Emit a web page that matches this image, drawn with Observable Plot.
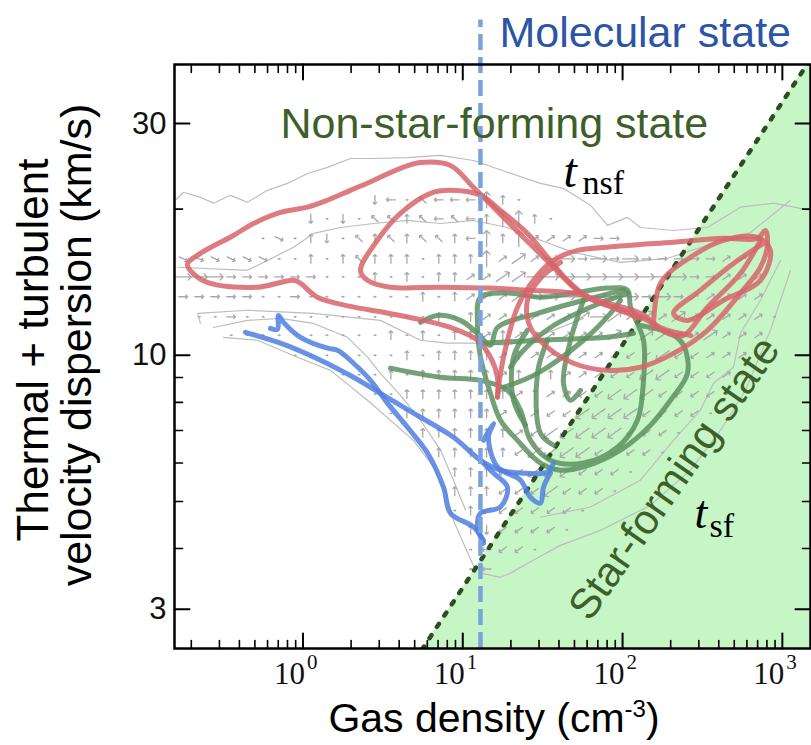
<!DOCTYPE html>
<html><head><meta charset="utf-8">
<script src="https://cdn.jsdelivr.net/npm/d3@7"></script>
<script src="https://cdn.jsdelivr.net/npm/@observablehq/plot@0.6"></script>
<style>body{margin:0;background:#fff}#chart{width:811px;height:745px}</style>
</head><body><div id="chart"></div>
<script>
// ---------- axis ticks ----------
const xMajor = [1, 10, 100, 1000];
const xMinor = [0.2,0.3,0.4,0.5,0.6,0.7,0.8,0.9,2,3,4,5,6,7,8,9,20,30,40,50,60,70,80,90,200,300,400,500,600,700,800,900];
const yMajor = [3, 10, 30];
const yMinor = [4, 5, 6, 7, 8, 9, 20];

// ---------- thresholds ----------
const molecularN = 12.9;                 // cm^-3, molecular-state threshold
const sfBoundaryN = [5, 2000];           // star-forming boundary (density)
const sfBoundarySigma = [2.35, 47.0];    // star-forming boundary (dispersion)

// ---------- tracks: [density, dispersion] ----------
const redPaths = [
  [[16.48,8.20],[16.48,9.01],[14.90,9.91],[12.36,10.74],[8.37,11.41],[5.68,11.80],[3.19,12.26],[1.98,12.61],[1.23,13.17],[0.965,14.07],[0.873,14.27],[0.519,13.81],[0.275,14.01],[0.219,14.48],[0.189,15.39],[0.228,16.21],[0.367,17.65],[0.490,18.68],[0.723,19.69],[1.067,20.18],[1.424,20.86],[1.98,21.86],[2.76,22.91],[4.07,24.27],[5.44,24.94],[8.37,24.60],[11.67,22.17],[15.56,20.18],[20.77,18.33],[27.70,16.69],[36.95,15.18],[49.29,13.81],[65.75,12.98],[101.3,12.38],[143.2,11.80],[191.0,11.10],[240.6,10.99],[339.8,12.56],[547,14.75],[729,17.25]],
  [[129.4,11.91],[80.43,12.67],[60.29,13.17],[45.19,14.27],[33.88,15.92],[25.39,17.82],[17.21,19.88],[12.91,21.35],[8.37,21.86],[6.28,21.55],[4.07,19.60],[2.92,17.25],[2.29,14.96],[2.53,14.27],[3.53,13.81],[7.25,13.81],[14.90,13.75],[25.39,13.62],[49.29,13.43],[80.43,12.80],[129.4,12.20],[172.7,11.41],[266.1,10.99]],
  [[16.48,8.20],[17.21,9.18],[19.04,10.74],[21.99,12.56],[27.70,14.27],[36.95,15.68],[52.20,16.44],[80.43,16.69],[208.3,17.10],[428.1,17.41],[698.2,17.41],[783.7,18.07],[807,16.85],[729,15.18],[547,13.43],[339.8,11.26],[208.3,10.09],[129.4,9.45],[80.43,9.31],[49.29,9.63],[33.88,10.38],[26.52,11.41],[25.39,12.98],[30.63,14.41],[40.86,15.53]],
  [[156.1,11.41],[172.7,14.07],[266.1,15.92],[428.1,17.25],[698.2,17.49],[842,16.44],[729,14.27],[428.1,12.98],[254.8,11.80],[208.3,12.20],[307.2,13.62],[494.5,15.46],[761.4,17.00]]
];
const greenPaths = [
  [[3.53,9.41],[7.25,9.01],[12.91,8.88],[19.04,8.47],[22.96,7.71],[26.52,6.68],[35.38,6.08],[56.93,6.00],[92.90,6.47],[123.9,7.35],[135.2,8.88],[135.2,10.74],[112.1,12.56],[107.3,13.62],[80.43,13.75],[49.29,13.43],[30.63,13.17],[19.04,13.43],[12.91,13.17],[12.36,11.63],[12.91,9.91],[14.90,8.35],[17.21,7.35],[21.99,6.68],[30.63,6.00],[40.86,5.80],[56.93,5.89],[97.01,6.38],[149.5,7.18],[199.5,8.08],[254.8,9.18],[240.6,10.49],[199.5,11.10],[129.4,11.52]],
  [[5.44,11.69],[6.95,12.08],[9.67,11.80],[12.36,11.10],[14.90,10.49],[16.48,11.41],[29.33,12.20],[56.93,12.98],[101.3,13.62]],
  [[17.98,8.59],[29.33,9.18],[56.93,10.74],[84.00,12.20],[97.01,12.98]],
  [[33.88,10.74],[29.33,9.18],[30.63,6.91],[36.95,6.53]],
  [[56.93,12.98],[47.20,10.74],[42.67,8.76],[47.20,8.08],[54.51,8.47]],
  [[19.89,9.45],[23.98,10.24],[35.38,11.41],[62.96,12.56],[107.3,13.43]],
  [[12.91,10.59],[30.63,10.74],[80.43,10.89],[117.0,11.10]],
  [[25.39,11.26],[20.77,9.91],[20.77,8.08],[24.68,7.18]]
];
const bluePaths = [
  [[0.436,11.15],[0.723,10.59],[1.288,9.77],[2.071,9.01],[3.053,8.35],[4.915,7.60],[8.745,6.78],[12.91,6.08],[17.21,5.80],[22.96,5.72],[33.88,5.75],[36.95,6.00]],
  [[0.626,11.36],[0.692,11.31],[0.703,12.08],[0.755,11.69],[0.965,10.89],[1.424,10.34],[1.644,10.24],[2.071,9.63],[2.645,8.88],[3.378,7.97],[4.506,7.11],[6.012,6.29],[7.572,5.35],[8.374,4.73],[11.67,4.43],[13.48,4.16]],
  [[12.91,6.08],[15.56,5.72],[19.04,5.35],[17.21,4.87],[12.91,4.73],[12.36,4.43],[13.48,4.10]],
  [[13.48,6.68],[15.56,7.24],[14.48,6.78],[16.48,5.89],[22.96,5.53],[26.52,5.10],[30.63,4.96],[31.99,5.35],[35.38,5.72]]
];
const contourPaths = [
  [[0.159,20.86],[0.179,21.66],[0.228,21.15],[0.275,20.57],[0.352,21.35],[0.449,20.66],[0.600,21.86],[0.800,22.59],[1.067,23.68],[1.424,24.38],[1.983,25.42],[2.762,25.42],[4.506,25.54],[7.251,25.80],[11.67,25.18],[19.04,23.82],[30.63,22.59],[42.67,22.06],[62.96,20.37],[80.43,18.51],[107.3,19.23],[129.4,18.33],[208.3,18.07],[339.8,18.33],[547.0,20.18],[879.8,20.57],[1500,19.88]],
  [[0.164,15.18],[0.449,14.96],[0.600,15.68],[0.873,16.69],[1.164,17.82],[1.717,18.33],[2.762,18.68],[4.506,18.95],[7.251,18.68],[11.67,18.95],[19.04,18.33],[30.63,17.25],[49.29,16.29],[97.01,15.53],[191.0,15.84],[339.8,16.85],[631.3,17.90],[1124,20.86]],
  [[0.228,11.63],[0.219,12.20],[0.449,12.38],[1.164,12.20],[3.053,11.80],[5.438,10.74],[8.018,10.59],[11.67,10.59],[19.04,10.49],[30.63,10.99],[56.93,11.91]],
  [[0.275,11.41],[0.449,11.80],[0.723,11.91],[1.164,11.63],[1.897,10.89],[2.533,9.91],[3.053,9.18],[4.075,8.27],[5.438,7.35],[7.251,6.38],[8.745,5.53],[10.40,4.80]],
  [[0.318,10.89],[0.519,10.74],[0.924,9.91],[1.486,9.31],[2.533,8.08],[4.915,6.68],[6.560,5.89],[8.018,5.10],[8.745,4.57],[10.1,4.10],[12.0,3.61]],
  [[30.63,4.64],[62.96,4.87],[129.4,5.53],[208.3,6.68],[307.2,7.71],[370.6,8.76],[494.5,9.45],[547.0,11.10],[729,12.98],[973,15.68]],
  [[12.91,3.56],[17.21,3.49],[19.89,3.56],[27.70,3.79],[40.86,4.06],[72.72,4.36],[149.5,4.91],[266.1,5.80],[409.9,7.01],[587.6,8.47],[842,11.26],[1124,14.96]]
];

// ---------- flow field (quiver) ----------
const arrowColsN = [0.178,0.224,0.282,0.355,0.447,0.562,0.708,0.891,1.12,1.41,1.78,2.24,2.82,3.55,4.47,5.62,7.08,8.91,11.2,14.1,17.8,22.4,28.2,35.5,44.7,56.2,70.8,89.1,112,141,178,224,282,355,447,562,708,891,1122];
const arrowRowsSigma = [20.9,19.1,17.4,15.8,14.5,13.2,12.0,11.0,10.0,9.12,8.32,7.59,6.92,6.31,5.75,5.25,4.79,4.37,3.98,3.63];
// [first column, directions]: r l u d e(NE) w(NW) s(SW) x(SE); upper case = strong, "." = weak
const arrowRows = [
  [12, "dl.wlllUu."],
  [8, "d.d.wwuwlwluUUu."],
  [5, ".x.ud.wuwuwwulUuUeeeerr"],
  [0, "xxxxxx..u.uwuuu.uuuUeEeRRrRrRrrrrree"],
  [0, "RRRrrrrrr...u.u.uueeEERRRRRRRRRRrreee"],
  [0, "rrrrr..r.......u.ueeeERRRRRRRrRreeeee"],
  [1, "..r............u.ueeeeeeEREeEeEeeeee."],
  [3, ".... .....u.u.uueueeeeeeEeEEeeEeee"],
  [7, ".......u.uuuueueeeeeessSsseee."],
  [10, "...u.uuuuueueueeessSSssse."],
  [12, "..uuuuuuueueessSSSssss."],
  [13, ".uuuuuueuessSSSSssss."],
  [15, "uuuuuuesSSSSSsss."],
  [16, "uuuuusSSSSssss."],
  [17, "uuussSSSsss."],
  [17, "uuusssSsss."],
  [17, ".ussssss."],
  [18, "udssss."],
  [18, ".lss."],
  [18, ".l"]
];

// ---------- build tables ----------
const toRows = (paths, tag) => paths.flatMap((p, k) => p.map(([n, s]) => ({n, s, id: tag + k})));
const sfRows = sfBoundaryN.map((n, i) => ({n, s: sfBoundarySigma[i]}));
const dirAngle = {r: 90, l: -90, u: 0, d: 180, e: 55, w: -45, s: 235, x: 115};
const arrows = [];
arrowRows.forEach(([start, str], j) => {
  [...str].forEach((c, k) => {
    if (c === " ") return;
    const lc = c.toLowerCase();
    arrows.push({
      n: arrowColsN[start + k], s: arrowRowsSigma[j],
      angle: c === "." ? 90 : dirAngle[lc],
      mag: c === "." ? 0.13 : (c === lc ? 0.55 : 1)
    });
  });
});

const SANS = "Liberation Sans, Arial, Helvetica, sans-serif";
const SERIF = "Liberation Serif, Times New Roman, serif";
const tickShape = {draw(ctx, l) { ctx.moveTo(0, 0); ctx.lineTo(0, -l); }};
const tickMarks = (vals, side, len, w) => {
  const cfg = {bottom: ["x", 0], top: ["x", 180], left: ["y", 90], right: ["y", 270]}[side];
  return Plot.vector(vals, {[cfg[0]]: d => d, frameAnchor: side, rotate: cfg[1], length: len, anchor: "start", shape: tickShape, stroke: "black", strokeWidth: w});
};
const lineOpts = (stroke) => ({x: "n", y: "s", z: "id", stroke, strokeWidth: 5, strokeOpacity: 0.85, curve: "catmull-rom", strokeLinejoin: "round", strokeLinecap: "round", clip: true});

const plot = Plot.plot({
  width: 811, height: 745,
  marginLeft: 174, marginRight: 1, marginTop: 64, marginBottom: 97,
  style: {background: "white", overflow: "visible"},
  x: {type: "log", domain: [0.157, 1500], axis: null},
  y: {type: "log", domain: [2.49, 39.7], axis: null},
  length: {domain: [0, 1], range: [0, 16]},
  marks: [
    Plot.areaY(sfRows, {x: "n", y1: 1, y2: "s", fill: "#c6f6c6", clip: true}),
    Plot.line(toRows(contourPaths, "c"), {x: "n", y: "s", z: "id", stroke: "#bdbdbd", strokeWidth: 1.2, clip: true}),
    Plot.vector(arrows, {x: "n", y: "s", rotate: "angle", length: "mag", stroke: "#a9a9a9", strokeWidth: 1.3, clip: true}),
    Plot.line(sfRows, {x: "n", y: "s", stroke: "#2e4d20", strokeWidth: 4.5, strokeDasharray: "3.5,10", clip: true}),
    Plot.line(toRows(greenPaths, "g"), lineOpts("#5d9160")),
    Plot.line(toRows(bluePaths, "b"), lineOpts("#4f7fe3")),
    Plot.line(toRows(redPaths, "r"), lineOpts("#d6646a")),
    Plot.ruleX([molecularN], {y1: 2.49, y2: 49, stroke: "#7aa3de", strokeWidth: 4.5, strokeDasharray: "16,7"}),
    Plot.frame({stroke: "black", strokeWidth: 2.5}),
    tickMarks(xMajor, "bottom", 15, 2), tickMarks(xMinor, "bottom", 8, 1.6),
    tickMarks(xMajor, "top", 15, 2), tickMarks(xMinor, "top", 8, 1.6),
    tickMarks(yMajor, "left", 15, 2), tickMarks(yMinor, "left", 8, 1.6),
    tickMarks(yMajor, "right", 15, 2), tickMarks(yMinor, "right", 8, 1.6),
    Plot.text(yMajor, {y: d => d, text: d => String(d), frameAnchor: "left", dx: -8, textAnchor: "end", fontSize: 31, fontFamily: SANS, fill: "#111"}),
    Plot.text(xMajor, {x: d => d, text: () => "10", frameAnchor: "bottom", dy: 35, dx: 2, textAnchor: "end", lineAnchor: "bottom", fontSize: 31, fontFamily: SERIF, fill: "#111"}),
    Plot.text(xMajor, {x: d => d, text: d => String(Math.round(Math.log10(d))), frameAnchor: "bottom", dy: 20, dx: 4, textAnchor: "start", lineAnchor: "bottom", fontSize: 21, fontFamily: SERIF, fill: "#111"}),
    Plot.text(["Molecular state"], {x: molecularN, y: 43.2, dx: 19, text: d => d, textAnchor: "start", lineAnchor: "bottom", fontSize: 43, fontFamily: SANS, fill: "#2d55a5"}),
    Plot.text(["Non-star-forming state"], {x: 0.723, y: 27.96, text: d => d, textAnchor: "start", lineAnchor: "bottom", fontSize: 43, fontFamily: SANS, fill: "#3d5f29"}),
    Plot.text(["Star-forming state"], {x: 247.5, y: 5.38, text: d => d, rotate: -55, textAnchor: "middle", lineAnchor: "bottom", fontSize: 42, fontFamily: SANS, fill: "#3d5f29"}),
    Plot.text(["t"], {x: 42.7, y: 22.2, text: d => d, textAnchor: "start", lineAnchor: "bottom", fontSize: 48, fontStyle: "italic", fontFamily: SERIF, fill: "#000"}),
    Plot.text(["nsf"], {x: 56.1, y: 21.5, text: d => d, textAnchor: "start", lineAnchor: "bottom", fontSize: 34, fontFamily: SERIF, fill: "#000"}),
    Plot.text(["t"], {x: 281.8, y: 4.41, text: d => d, textAnchor: "start", lineAnchor: "bottom", fontSize: 46, fontStyle: "italic", fontFamily: SERIF, fill: "#000"}),
    Plot.text(["sf"], {x: 349.8, y: 4.22, text: d => d, textAnchor: "start", lineAnchor: "bottom", fontSize: 34, fontFamily: SERIF, fill: "#000"})
  ]
});

// axis titles
const svg = d3.select(plot);
const titles = svg.append("g").attr("font-family", SANS).attr("fill", "#000");
const xt = titles.append("text").attr("x", 494).attr("y", 732).attr("text-anchor", "middle").attr("font-size", 41);
xt.append("tspan").text("Gas density ");
xt.append("tspan").text("(cm");
xt.append("tspan").attr("dy", -15).attr("font-size", 24).text("-3");
xt.append("tspan").attr("dy", 15).text(")");
titles.append("text").attr("transform", "translate(48,350) rotate(-90)").attr("text-anchor", "middle").attr("font-size", 44).text("Thermal + turbulent");
const yt2 = titles.append("text").attr("transform", "translate(91,345) rotate(-90)").attr("text-anchor", "middle").attr("font-size", 43);
yt2.append("tspan").text("velocity dispersion ");
yt2.append("tspan").text("(km/s)");

document.getElementById("chart").appendChild(plot);
</script></body></html>
